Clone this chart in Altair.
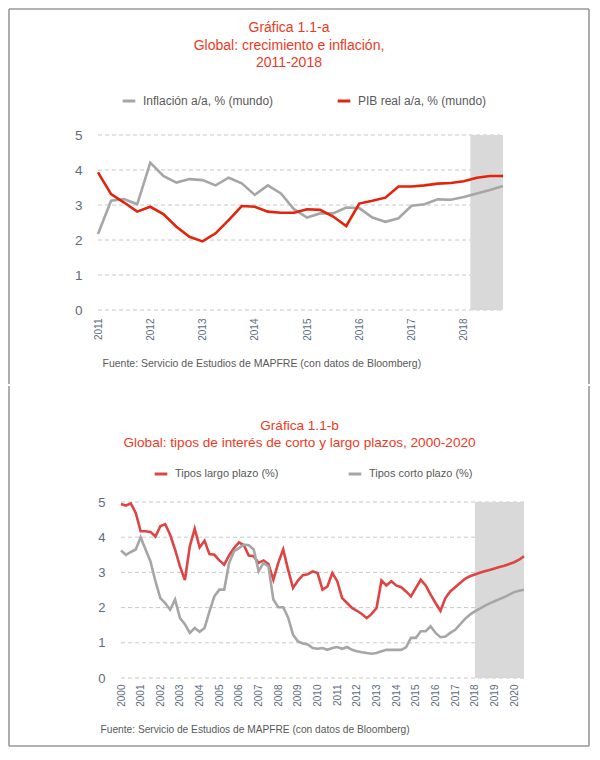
import altair as alt
import pandas as pd

FONT = "Liberation Sans"
TITLE_RED = "#ee3a24"
GRAY_LINE = "#a6a6a6"
TOP_RED = "#e3230b"
BOT_RED = "#de4444"
LABEL_COL = "#5d6b7e"
TEXT_COL = "#595959"
SHADE = "#d9d9d9"
FRAME = "#999999"
GRID = "#c8c8c8"

# ---------------- Panel a data (quarterly, 2011Q1 - 2018Q4) ----------------
top_start = 2011
inflacion = [2.17, 3.12, 3.17, 3.02, 4.21, 3.83, 3.64, 3.74, 3.71, 3.56, 3.78, 3.62,
             3.29, 3.56, 3.33, 2.88, 2.64, 2.76, 2.76, 2.93, 2.91, 2.64, 2.52, 2.62,
             2.98, 3.02, 3.16, 3.15, 3.23, 3.33, 3.43, 3.54]
pib = [3.93, 3.31, 3.07, 2.81, 2.95, 2.74, 2.38, 2.09, 1.96, 2.19, 2.57, 2.97,
       2.95, 2.81, 2.78, 2.78, 2.88, 2.86, 2.67, 2.40, 3.04, 3.12, 3.21, 3.53,
       3.53, 3.56, 3.61, 3.63, 3.68, 3.78, 3.83, 3.83]
top_series = ["Inflación a/a, % (mundo)", "PIB real a/a, % (mundo)"]
top_ticks = [2011, 2012, 2013, 2014, 2015, 2016, 2017, 2018]
top_shade = [2018.125, 2018.75]

# ---------------- Panel b data (quarterly, 2000Q1 - 2020Q3) ----------------
bot_start = 2000
largo = [4.94, 4.90, 4.96, 4.69, 4.17, 4.17, 4.15, 4.02, 4.31, 4.37,
         4.07, 3.65, 3.17, 2.78, 3.74, 4.24, 3.71, 3.90, 3.52, 3.50,
         3.34, 3.22, 3.48, 3.69, 3.85, 3.77, 3.48, 3.46, 3.27, 3.34,
         3.24, 2.79, 3.27, 3.65, 3.08, 2.56, 2.77, 2.92, 2.95, 3.03,
         2.98, 2.51, 2.60, 2.98, 2.75, 2.27, 2.13, 1.99, 1.91, 1.82,
         1.70, 1.82, 1.99, 2.77, 2.63, 2.75, 2.63, 2.58, 2.46, 2.32,
         2.56, 2.79, 2.63, 2.37, 2.13, 1.91, 2.27, 2.46, 2.58, 2.70,
         2.82, 2.89, 2.94,
         2.99, 3.03, 3.07, 3.11, 3.15, 3.19, 3.24, 3.29, 3.36, 3.46]
corto = [3.62, 3.50, 3.58, 3.65, 4.00, 3.65, 3.31, 2.75, 2.27, 2.13,
         1.94, 2.23, 1.70, 1.53, 1.28, 1.42, 1.31, 1.42, 1.89, 2.32,
         2.51, 2.51, 3.27, 3.60, 3.69, 3.79, 3.77, 3.65, 3.03, 3.27,
         3.17, 2.23, 2.01, 2.01, 1.72, 1.23, 1.04, 0.98, 0.95, 0.85,
         0.83, 0.85, 0.80, 0.85, 0.88, 0.83, 0.88, 0.80, 0.76, 0.73,
         0.71, 0.69, 0.71, 0.76, 0.80, 0.80, 0.80, 0.80, 0.87, 1.14,
         1.14, 1.33, 1.33, 1.47, 1.28, 1.16, 1.18, 1.28, 1.37, 1.52,
         1.68, 1.80, 1.89,
         1.97, 2.05, 2.12, 2.18, 2.24, 2.30, 2.37, 2.44, 2.48, 2.51]
bot_series = ["Tipos largo plazo (%)", "Tipos corto plazo (%)"]
bot_ticks = list(range(2000, 2021))
bot_shade = [2018.0, 2020.5]

y_ticks = [0, 1, 2, 3, 4, 5]
fuente = "Fuente: Servicio de Estudios de MAPFRE (con datos de Bloomberg)"


def frame_rules(rules, key):
    one = pd.DataFrame({key: [1]})
    return [
        alt.Chart(one).mark_rule(color=FRAME, strokeWidth=1.6).encode(**r)
        for r in rules
    ]


def panel(key, t, series_vals, names, colors, ticks, shade, domain_x, x_range, width,
          height, title_lines, title_size, title_lh, title_dy, legend_x, legend_y,
          legend_font, col_pad, src_x, src_y, src_size, ylab_size, ylab_pad,
          label_pad_x, frame_spec):
    df = pd.DataFrame({
        "t": t * len(series_vals),
        "v": [v for s in series_vals for v in s],
        "s": [nm for nm, s in zip(names, series_vals) for _ in s],
    })
    xscale = alt.Scale(domain=domain_x, range=x_range, nice=False, zero=False)
    yscale = alt.Scale(domain=[0, 5], nice=False)
    x_axis = alt.Axis(values=ticks, format="d", labelAngle=-90,
                      labelFontSize=10, labelColor=LABEL_COL,
                      labelPadding=label_pad_x, grid=False, domain=False,
                      ticks=False, labelFont=FONT, labelOverlap=False,
                      title=fuente, titleFont=FONT, titleFontSize=src_size,
                      titleFontWeight="normal", titleColor=TEXT_COL,
                      titleAnchor="start", titleAlign="left",
                      titleBaseline="alphabetic",
                      titleX=src_x, titleY=src_y)
    y_axis = alt.Axis(values=y_ticks, grid=False, domain=False,
                      ticks=False, labelPadding=ylab_pad, labelOverlap=False,
                      labelFontSize=ylab_size, labelColor=LABEL_COL,
                      labelFont=FONT, title=None)

    grid_df = pd.DataFrame({"gy": y_ticks, "gx0": [domain_x[0]] * len(y_ticks),
                            "gx1": [domain_x[1]] * len(y_ticks)})
    grid_layer = alt.Chart(grid_df).mark_rule(
        color=GRID, strokeWidth=1, strokeDash=[4, 3]
    ).encode(
        x=alt.X("gx0:Q", scale=xscale, axis=x_axis), x2="gx1:Q",
        y=alt.Y("gy:Q", scale=yscale, axis=y_axis),
    )

    shade_df = pd.DataFrame({"x": [shade[0]], "x2": [shade[1]]})
    shade_layer = alt.Chart(shade_df).mark_rect(color=SHADE).encode(
        x=alt.X("x:Q", scale=xscale, axis=x_axis),
        x2="x2:Q",
    )
    lines = alt.Chart(df).mark_line(strokeWidth=2.6).encode(
        x=alt.X("t:Q", scale=xscale, axis=x_axis),
        y=alt.Y("v:Q", scale=yscale, axis=y_axis),
        color=alt.Color("s:N", scale=alt.Scale(domain=names, range=colors),
                        legend=alt.Legend(orient="none", legendX=legend_x,
                                          legendY=legend_y, direction="horizontal",
                                          title=None, symbolType="stroke",
                                          symbolStrokeWidth=3, symbolSize=160,
                                          labelFontSize=legend_font,
                                          labelColor=TEXT_COL, labelFont=FONT,
                                          labelOffset=6, columnPadding=col_pad,
                                          padding=0)),
        order=alt.Order("t:Q"),
    )
    layers = [grid_layer, shade_layer, lines] + frame_rules(frame_spec, key)
    return alt.layer(*layers).properties(
        width=width, height=height,
        title=alt.TitleParams(text=title_lines, font=FONT, fontSize=title_size,
                              fontWeight="normal", color=TITLE_RED,
                              lineHeight=title_lh, offset=0, dy=title_dy,
                              anchor="middle"),
    )


top_t = [top_start + i * 0.25 for i in range(len(pib))]
bot_t = [bot_start + i * 0.25 for i in range(len(largo))]

# both panels share the same group origin; the plot areas are offset through the x range
top = panel(
    "frame_a", top_t, [inflacion, pib], top_series, [GRAY_LINE, TOP_RED], top_ticks,
    top_shade, [2011, 2018.75], [23, 428], 428, 175,
    ["Gráfica 1.1-a", "Global: crecimiento e inflación,", "2011-2018"], 14, 17.5, 62,
    46, -42, 12, 57, 27, 56.5, 10.5, 13.5, -7, 8,
    [
        dict(x=alt.value(-66), x2=alt.value(514), y=alt.value(-126)),
        dict(x=alt.value(-66), y=alt.value(-126), y2=alt.value(249)),
        dict(x=alt.value(514), y=alt.value(-126), y2=alt.value(249)),
    ],
)

bottom = panel(
    "frame_b", bot_t, [largo, corto], bot_series, [BOT_RED, GRAY_LINE], bot_ticks,
    bot_shade, [2000, 2020.5], [46, 449], 449, 176,
    ["Gráfica 1.1-b", "Global: tipos de interés de corto y largo plazos, 2000-2020"],
    13.6, 17, 64,
    78, -36, 11, 63, 25, 54.5, 10.2, 13, -30, 6,
    [
        dict(x=alt.value(-66), y=alt.value(-116), y2=alt.value(244)),
        dict(x=alt.value(514), y=alt.value(-116), y2=alt.value(244)),
        dict(x=alt.value(-66), x2=alt.value(514), y=alt.value(244)),
    ],
)

chart = alt.vconcat(top, bottom, spacing=0).resolve_scale(
    color="independent", x="independent", y="independent"
).resolve_legend(color="independent").properties(padding=0).configure_view(stroke=None)

chart.save("out.html", embed_options={"renderer": "svg", "actions": False})
